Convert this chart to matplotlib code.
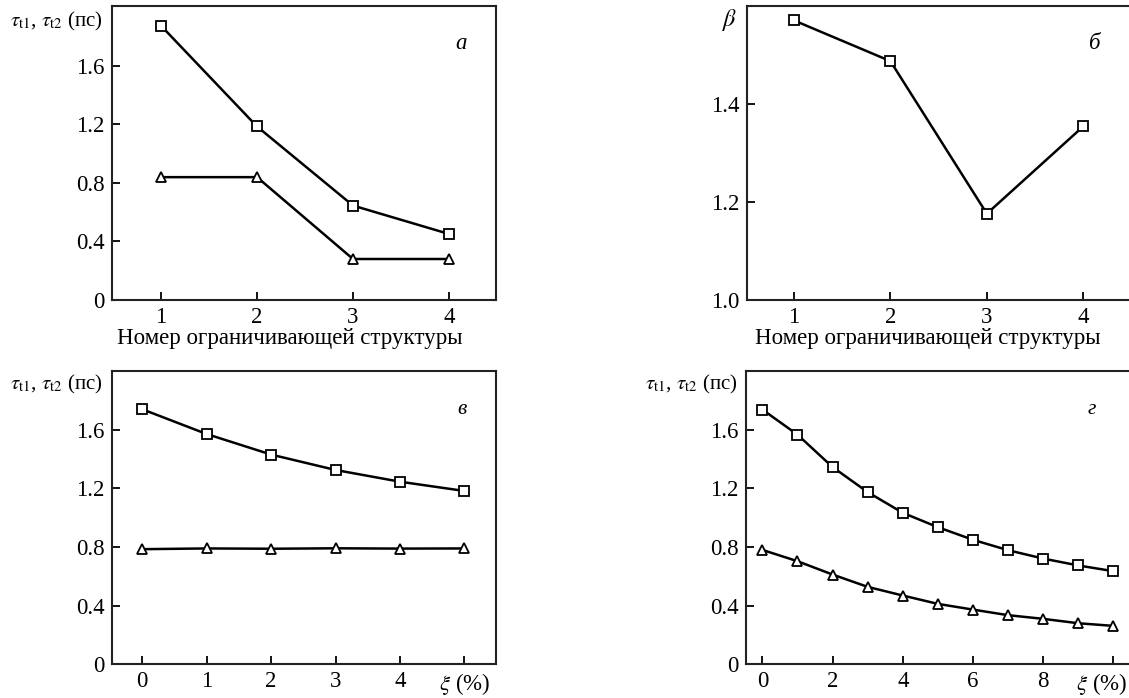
import matplotlib
matplotlib.use("Agg")
import matplotlib.pyplot as plt
from matplotlib.transforms import ScaledTranslation

plt.rcParams['font.family'] = ['Liberation Serif', 'DejaVu Serif']
plt.rcParams['mathtext.fontset'] = 'stix'

# Panel a
struct_x = [1, 2, 3, 4]
a_tau1 = [1.873, 1.185, 0.645, 0.451]
a_tau2 = [0.839, 0.839, 0.280, 0.280]
# Panel b
b_beta = [1.570, 1.487, 1.176, 1.354]
# Panel c
c_xi = [0, 1, 2, 3, 4, 5]
c_tau1 = [1.739, 1.570, 1.430, 1.325, 1.245, 1.182]
c_tau2 = [0.785, 0.790, 0.788, 0.791, 0.789, 0.790]
# Panel d
d_xi = [0, 1, 2, 3, 4, 5, 6, 7, 8, 9, 10]
d_tau1 = [1.737, 1.566, 1.345, 1.174, 1.033, 0.935, 0.849, 0.778, 0.721, 0.674, 0.635]
d_tau2 = [0.780, 0.703, 0.612, 0.528, 0.469, 0.412, 0.373, 0.335, 0.310, 0.280, 0.262]

tau_label = r'$\tau_{\rm t1}$, $\tau_{\rm t2}$ (пс)'
xlabel_struct = 'Номер ограничивающей структуры'

W, H = 1129, 698
fig = plt.figure(figsize=(W / 100, H / 100), dpi=100)

def pos(l, r, t, b):
    return [l / W, 1 - b / H, (r - l) / W, (b - t) / H]

FS = 16.5
LFS = 15
LW = 1.8
sq = dict(marker='s', ms=7, mfc='white', mec='black', mew=1.3, color='black', lw=LW)
tr = dict(marker='^', ms=7, mfc='white', mec='black', mew=1.3, color='black', lw=LW)

def style(ax):
    for s in ax.spines.values():
        s.set_linewidth(1.5)
        s.set_color('#222222')
    ax.tick_params(direction='in', length=6, width=1.3, labelsize=FS, colors='black', pad=5)

# a
ax = fig.add_axes(pos(111.7, 496, 5.7, 300))
ax.plot(struct_x, a_tau1, **sq)
ax.plot(struct_x, a_tau2, **tr)
ax.set_xlim(0.486, 4.49)
ax.set_ylim(0, 2.01)
ax.set_xticks(struct_x)
ax.set_yticks([0, 0.4, 0.8, 1.2, 1.6])
ax.set_yticklabels(['0', '0.4', '0.8', '1.2', '1.6'])
style(ax)
ax.set_xlabel(xlabel_struct, fontsize=FS, labelpad=0, x=0.464)
ax.text(-0.024, 0.946, tau_label, transform=ax.transAxes, ha='right', va='center', fontsize=LFS)
ax.text(0.91, 0.873, 'a', transform=ax.transAxes, ha='center', va='center', fontsize=FS, style='italic')

# b
ax = fig.add_axes(pos(746.7, 1131.5, 5.7, 300))
ax.plot(struct_x, b_beta, **sq)
ax.set_xlim(0.51, 4.5)
ax.set_ylim(1.0, 1.6)
ax.set_xticks(struct_x)
ax.set_yticks([1.0, 1.2, 1.4])
ax.set_yticklabels(['1.0', '1.2', '1.4'])
style(ax)
ax.set_xlabel(xlabel_struct, fontsize=FS, labelpad=0, x=0.471)
ax.text(-0.024, 0.951, r'$\beta$', transform=ax.transAxes, ha='right', va='center', fontsize=FS + 1)
ax.text(0.905, 0.873, 'б', transform=ax.transAxes, ha='center', va='center', fontsize=FS, style='italic')

# c
ax = fig.add_axes(pos(111.7, 496, 371, 664.3))
ax.plot(c_xi, c_tau1, **sq)
ax.plot(c_xi, c_tau2, **tr)
ax.set_xlim(-0.475, 5.49)
ax.set_ylim(0, 2.0)
ax.set_xticks(c_xi)
ax.set_xticklabels(['0', '1', '2', '3', '4', r'$\xi$ (%)'])
ax.set_yticks([0, 0.4, 0.8, 1.2, 1.6])
ax.set_yticklabels(['0', '0.4', '0.8', '1.2', '1.6'])
style(ax)
ax.text(-0.024, 0.955, tau_label, transform=ax.transAxes, ha='right', va='center', fontsize=LFS)
ax.text(0.9125, 0.869, 'в', transform=ax.transAxes, ha='center', va='center', fontsize=FS - 1, style='italic')

# d
ax = fig.add_axes(pos(745.7, 1130.9, 371, 664.3))
ax.plot(d_xi, d_tau1, **sq)
ax.plot(d_xi, d_tau2, **tr)
ax.set_xlim(-0.475, 10.5)
ax.set_ylim(0, 2.0)
ax.set_xticks(d_xi)
ax.set_xticklabels(['0', '', '2', '', '4', '', '6', '', '8', '', r'$\xi$ (%)'])
ax.set_yticks([0, 0.4, 0.8, 1.2, 1.6])
ax.set_yticklabels(['0', '0.4', '0.8', '1.2', '1.6'])
style(ax)
for i, t in enumerate(ax.xaxis.get_major_ticks()):
    if d_xi[i] % 2 == 1:
        t.tick1line.set_visible(False)
        t.tick2line.set_visible(False)
last = ax.get_xticklabels()[-1]
last.set_transform(last.get_transform() + ScaledTranslation(-12 / 100, 0, fig.dpi_scale_trans))
ax.text(-0.02, 0.955, tau_label, transform=ax.transAxes, ha='right', va='center', fontsize=LFS)
ax.text(0.898, 0.869, 'г', transform=ax.transAxes, ha='center', va='center', fontsize=FS - 1, style='italic')

fig.savefig('out.png', dpi=100)
